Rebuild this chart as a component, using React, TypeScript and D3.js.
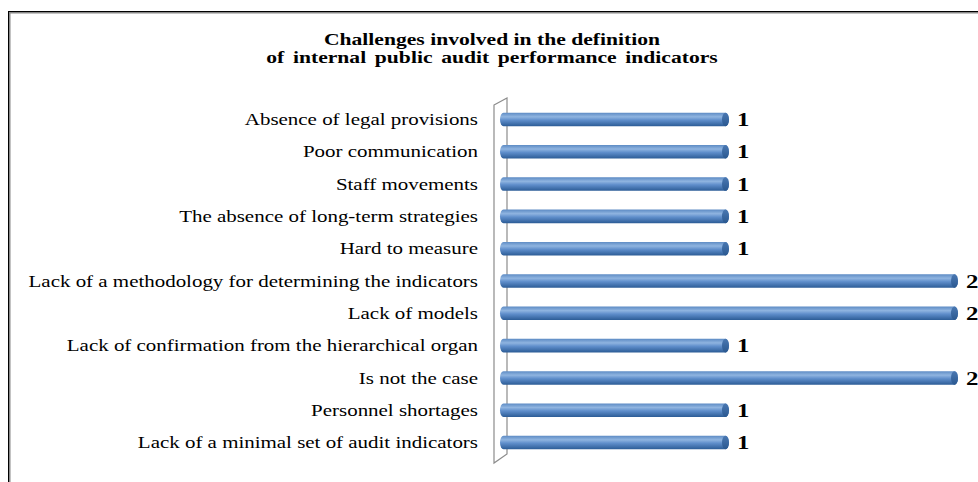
import { useMemo } from 'react'
import * as d3 from 'd3'

// Chart data, top to bottom
const categories = [
  'Absence of legal provisions',
  'Poor communication',
  'Staff movements',
  'The absence of long-term strategies',
  'Hard to measure',
  'Lack of a methodology for determining the indicators',
  'Lack of models',
  'Lack of confirmation from the hierarchical organ',
  'Is not the case',
  'Personnel shortages',
  'Lack of a minimal set of audit indicators',
]
const values = [1, 1, 1, 1, 1, 2, 2, 1, 2, 1, 1]
const titleLines = [
  'Challenges involved in the definition',
  'of internal public audit performance indicators',
]

const W = 978
const H = 482
const FONT = "'Liberation Serif', 'DejaVu Serif', serif"
// the source picture is stretched sideways, so text is widened too
const STRETCH = 1.31

function WideText({ x, y, anchor = 'start', size, bold = false, wordSpacing = 0, dy = '0', children }: any) {
  return (
    <g transform={`translate(${x},${y}) scale(${STRETCH},1)`}>
      <text
        dy={dy}
        textAnchor={anchor}
        style={{ fontFamily: FONT, fontSize: size, fontWeight: bold ? 'bold' : 'normal', wordSpacing }}
        fill="#000"
      >
        {children}
      </text>
    </g>
  )
}

export default function App() {
  const x = useMemo(() => d3.scaleLinear().domain([0, 2]).range([500, 958]), [])
  const y = useMemo(
    () => d3.scaleBand<string>().domain(categories).range([103, 459]).paddingInner(0.58).paddingOuter(0.3),
    []
  )
  const bw = y.bandwidth()
  const capRx = 3.5

  return (
    <svg
      width={W}
      height={H}
      style={{ position: 'absolute', left: 0, top: 0, background: '#fff', fontFamily: FONT }}
    >
      <defs>
        <linearGradient id="barGrad" x1="0" y1="0" x2="0" y2="1">
          <stop offset="0" stopColor="#5d8bc4" />
          <stop offset="0.3" stopColor="#8fb4e0" />
          <stop offset="0.55" stopColor="#5f8ecb" />
          <stop offset="1" stopColor="#2c5c96" />
        </linearGradient>
        <linearGradient id="capGrad" x1="0" y1="0" x2="0" y2="1">
          <stop offset="0" stopColor="#4a78b2" />
          <stop offset="1" stopColor="#2a5890" />
        </linearGradient>
      </defs>

      {/* chart frame */}
      <rect x={9.5} y={12.5} width={W + 20} height={H + 20} fill="none" stroke="#888" strokeWidth={2} />
      <rect x={8.5} y={11.5} width={W + 20} height={H + 20} fill="none" stroke="#000" strokeWidth={1} />

      {/* title */}
      {titleLines.map((t, i) => (
        <WideText key={i} x={492} y={45 + i * 18} anchor="middle" size={16.5} bold wordSpacing={i === 1 ? 2.5 : 0}>
          {t}
        </WideText>
      ))}

      {/* 3D wall */}
      <path
        d="M494,105 L507,98 L507,454 L494,463 Z"
        fill="none"
        stroke="#8c8c8c"
        strokeWidth={1.2}
      />

      {/* bars */}
      {categories.map((c, i) => {
        const y0 = y(c)!
        const x0 = x(0)
        const x1 = x(values[i])
        const cy = y0 + bw / 2
        return (
          <g key={c}>
            <rect x={x0} y={y0} width={x1 - x0} height={bw} rx={capRx} ry={bw / 2} fill="url(#barGrad)" />
            <ellipse cx={x1 - capRx} cy={cy} rx={capRx} ry={bw / 2} fill="url(#capGrad)" />
            <WideText x={x1 + 8} y={cy} dy="0.35em" size={19} bold>
              {values[i]}
            </WideText>
            <WideText x={478} y={cy} dy="0.35em" anchor="end" size={16}>
              {c}
            </WideText>
          </g>
        )
      })}
    </svg>
  )
}
